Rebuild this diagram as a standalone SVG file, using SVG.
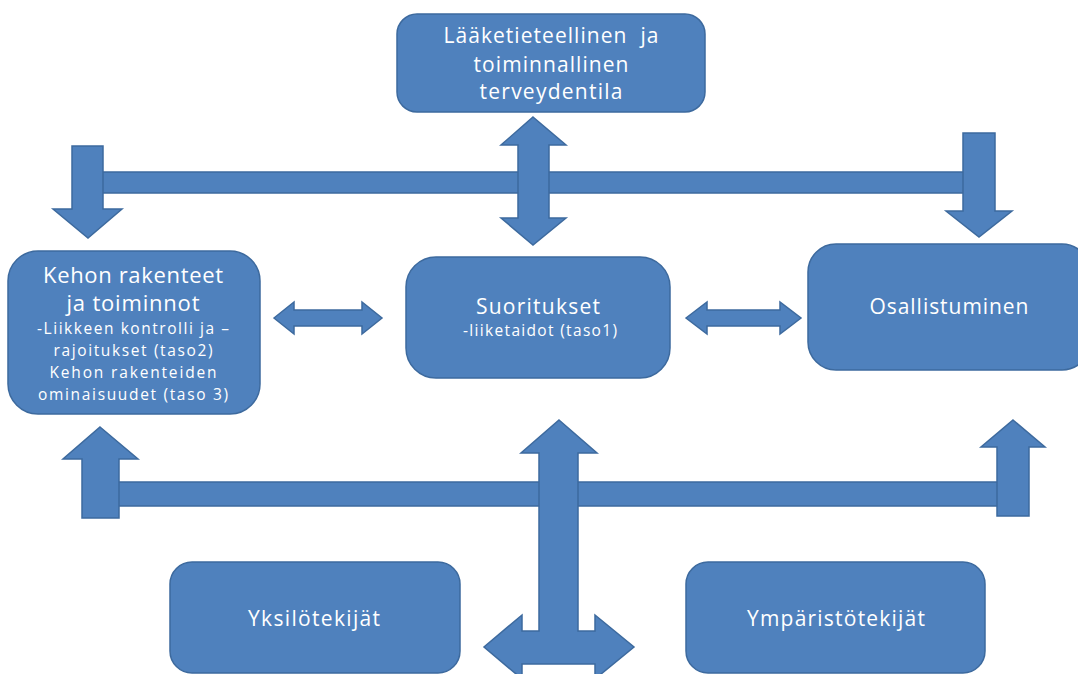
<svg xmlns="http://www.w3.org/2000/svg" width="1078" height="674" viewBox="0 0 1078 674">
<style>
.box{fill:#4f81bd;stroke:#3d6a9e;stroke-width:1.5}
.c{fill:#4f81bd;stroke:#3d6a9e;stroke-width:1.5;stroke-linejoin:miter}
text{font-family:"Open Sans","Noto Sans","Liberation Sans",sans-serif;fill:#ffffff;text-anchor:middle;font-variant-ligatures:none}
.t20{font-size:21px}
.t21{font-size:22px}
.t15{font-size:15.5px}
</style>
<rect width="1078" height="674" fill="#ffffff"/>
<g id="connectors">
<rect class="c" x="88" y="172" width="890" height="21"/>
<rect class="c" x="100" y="482" width="913" height="24"/>
<path class="c" d="M72,146 H103 V209 H122 L88,238 L53,209 H72 Z"/>
<path class="c" d="M963,133 H995 V211 H1012 L979,237 L946,211 H963 Z"/>
<path class="c" d="M533,117 L566,145 H549 V218 H566 L533,245 L501,218 H518 V145 H501 Z"/>
<path class="c" d="M274,318 L294,302 V310 H362 V302 L382,318 L362,334 V326 H294 V334 Z"/>
<path class="c" d="M686,318 L707,302 V310 H780 V302 L801,318 L780,334 V326 H707 V334 Z"/>
<path class="c" d="M100,427 L138,459 H119 V518 H82 V459 H63 Z"/>
<path class="c" d="M1013,420 L1045,447 H1029 V516 H997 V447 H981 Z"/>
<path class="c" d="M559,420 L597,453 H578 V631 H595 V615 L634,647 L595,679 V664 H522 V679 L484,647 L522,615 V631 H539 V453 H521 Z"/>
</g>
<g id="node-terveydentila">
<rect class="box" x="397" y="14" width="308" height="98" rx="20"/>
<text class="t20" x="551" y="43" textLength="215" lengthAdjust="spacing">Lääketieteellinen&#160; ja</text>
<text class="t20" x="551" y="72" textLength="155" lengthAdjust="spacing">toiminnallinen</text>
<text class="t20" x="551" y="99" textLength="143" lengthAdjust="spacing">terveydentila</text>
</g>
<g id="node-kehon">
<rect class="box" x="8" y="251" width="252" height="163" rx="30"/>
<text class="t21" x="133" y="283" textLength="180" lengthAdjust="spacing">Kehon rakenteet</text>
<text class="t21" x="133" y="311" textLength="133" lengthAdjust="spacing">ja toiminnot</text>
<text class="t15" x="133" y="334" textLength="192" lengthAdjust="spacing">-Liikkeen kontrolli ja –</text>
<text class="t15" x="133" y="356" textLength="159" lengthAdjust="spacing">rajoitukset (taso2)</text>
<text class="t15" x="133" y="378" textLength="167" lengthAdjust="spacing">Kehon rakenteiden</text>
<text class="t15" x="133" y="400" textLength="190" lengthAdjust="spacing">ominaisuudet (taso 3)</text>
</g>
<g id="node-suoritukset">
<rect class="box" x="406" y="257" width="264" height="121" rx="30"/>
<text class="t20" x="538" y="314" textLength="124" lengthAdjust="spacing">Suoritukset</text>
<text class="t15" x="540" y="336" textLength="154" lengthAdjust="spacing">-liiketaidot (taso1)</text>
</g>
<g id="node-osallistuminen">
<rect class="box" x="808" y="244" width="282" height="126" rx="28"/>
<text class="t20" x="949" y="314" textLength="159" lengthAdjust="spacing">Osallistuminen</text>
</g>
<g id="node-yksilotekijat">
<rect class="box" x="170" y="562" width="290" height="111" rx="22"/>
<text class="t20" x="314" y="626" textLength="132" lengthAdjust="spacing">Yksilötekijät</text>
</g>
<g id="node-ymparistotekijat">
<rect class="box" x="686" y="562" width="299" height="111" rx="22"/>
<text class="t20" x="836" y="626" textLength="178" lengthAdjust="spacing">Ympäristötekijät</text>
</g>
</svg>
